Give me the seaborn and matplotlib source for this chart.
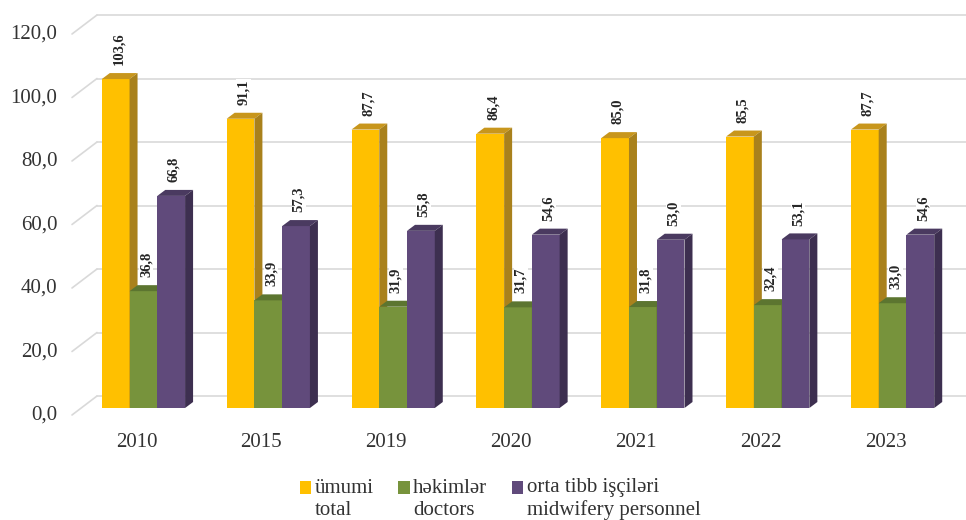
import numpy as np
import pandas as pd
import matplotlib
matplotlib.use("Agg")
import matplotlib.pyplot as plt
import matplotlib.transforms as mtransforms
from matplotlib.patches import Polygon, Rectangle
from matplotlib.lines import Line2D
from matplotlib.legend_handler import HandlerPatch
import seaborn as sns

# data
years = ["2010", "2015", "2019", "2020", "2021", "2022", "2023"]
total = [103.6, 91.1, 87.7, 86.4, 85.0, 85.5, 87.7]
doctors = [36.8, 33.9, 31.9, 31.7, 31.8, 32.4, 33.0]
midwifery = [66.8, 57.3, 55.8, 54.6, 53.0, 53.1, 54.6]
series_names = ["ümumi\ntotal", "həkimlər\ndoctors", "orta tibb işçiləri\nmidwifery personnel"]
yticks = [0, 20, 40, 60, 80, 100, 120]

front_colors = ["#FFC000", "#77933C", "#604A7B"]
top_colors = ["#C8961C", "#5C7530", "#4A3A60"]
side_colors = ["#A9811C", "#4F6228", "#3D2F50"]

df = pd.DataFrame({
    "year": years * 3,
    "value": total + doctors + midwifery,
    "series": np.repeat(series_names, len(years)),
})

sns.set_style("white")
plt.rcParams["font.family"] = ["Liberation Serif", "DejaVu Serif"]

W, H = 966, 520
fig = plt.figure(figsize=(W / 100, H / 100), dpi=100)
ax = fig.add_axes([81 / W, 112 / H, (955 - 81) / W, 381 / H])

sns.barplot(data=df, x="year", y="value", hue="series", hue_order=series_names,
            palette=front_colors, width=0.667, saturation=1, errorbar=None,
            legend=False, ax=ax)
ax.set_xlim(-0.5, 6.5)
ax.set_ylim(0, 120)
ax.set_xlabel("")
ax.set_ylabel("")
sns.despine(ax=ax, left=True, bottom=True)
ax.patch.set_alpha(0)

# back-wall gridlines with little diagonal stubs on the left
def px_y(v):
    return ax.transData.transform((0, v))[1]

grid_kw = dict(color="#D9D9D9", lw=1.2, transform=fig.transFigure, clip_on=False, zorder=0.5)
for v in yticks:
    yb = (px_y(v) + 12) / H
    yf = (px_y(v) - 7) / H
    ax.add_line(Line2D([97 / W, 1.0], [yb, yb], **grid_kw))
    ax.add_line(Line2D([72 / W, 97 / W], [yf, yb], **grid_kw))

# fake 3D depth for every bar
dx_px, dy_px = 8, 6
inv = ax.transData.inverted()
for k, cont in enumerate(ax.containers):
    for bar in cont.patches:
        bar.set_edgecolor("none")
        bar.set_zorder(2 + 2 * k)
        x0, y0 = bar.get_x(), bar.get_y()
        x1, y1 = x0 + bar.get_width(), y0 + bar.get_height()
        p00 = ax.transData.transform((x0, y0))
        p11 = ax.transData.transform((x1, y1))
        top = [(p00[0], p11[1]), (p11[0], p11[1]),
               (p11[0] + dx_px, p11[1] + dy_px), (p00[0] + dx_px, p11[1] + dy_px)]
        side = [(p11[0], p00[1]), (p11[0], p11[1]),
                (p11[0] + dx_px, p11[1] + dy_px), (p11[0] + dx_px, p00[1] + dy_px)]
        for pts, c in ((top, top_colors[k]), (side, side_colors[k])):
            ax.add_patch(Polygon(inv.transform(pts), closed=True, fc=c, ec="none",
                                 zorder=3 + 2 * k, clip_on=False))
        lbl = f"{bar.get_height():.1f}".replace(".", ",")
        ax.annotate(lbl, ((x0 + x1) / 2, y1), xytext=(2, 10), textcoords="offset points",
                    rotation=90, ha="center", va="bottom", fontsize=10.5, fontweight="bold",
                    bbox=dict(fc="white", ec="none", pad=0.5), zorder=10)

# ticks
ax.set_yticks(yticks)
ax.set_yticklabels([f"{v:.1f}".replace(".", ",") for v in yticks])
ax.tick_params(axis="y", length=0, pad=17, labelsize=15, labelcolor="#333333")
ax.tick_params(axis="x", length=0, pad=18, labelsize=15, labelcolor="#333333")
for t in ax.get_yticklabels():
    t.set_transform(t.get_transform() + mtransforms.ScaledTranslation(0, -5 / 100, fig.dpi_scale_trans))
for t in ax.get_xticklabels():
    t.set_transform(t.get_transform() + mtransforms.ScaledTranslation(-7 / 100, 0, fig.dpi_scale_trans))


class TopSquare(HandlerPatch):
    def create_artists(self, legend, orig_handle, xdescent, ydescent, width, height, fontsize, trans):
        r = Rectangle((-xdescent, -ydescent + 0.55 * fontsize), width, height,
                      fc=orig_handle.get_facecolor(), ec="none", transform=trans)
        return [r]


handles = [Rectangle((0, 0), 1, 1, fc=c) for c in front_colors]
fig.legend(handles, series_names, loc="upper center", bbox_to_anchor=(500 / W, 1 - 468 / H),
           ncol=3, frameon=False, fontsize=15, handlelength=0.55, handleheight=0.55,
           handletextpad=0.15, columnspacing=1.2, borderpad=0, labelspacing=0,
           handler_map={Rectangle: TopSquare()}, labelcolor="#333333")

fig.savefig("out.png", dpi=100)
